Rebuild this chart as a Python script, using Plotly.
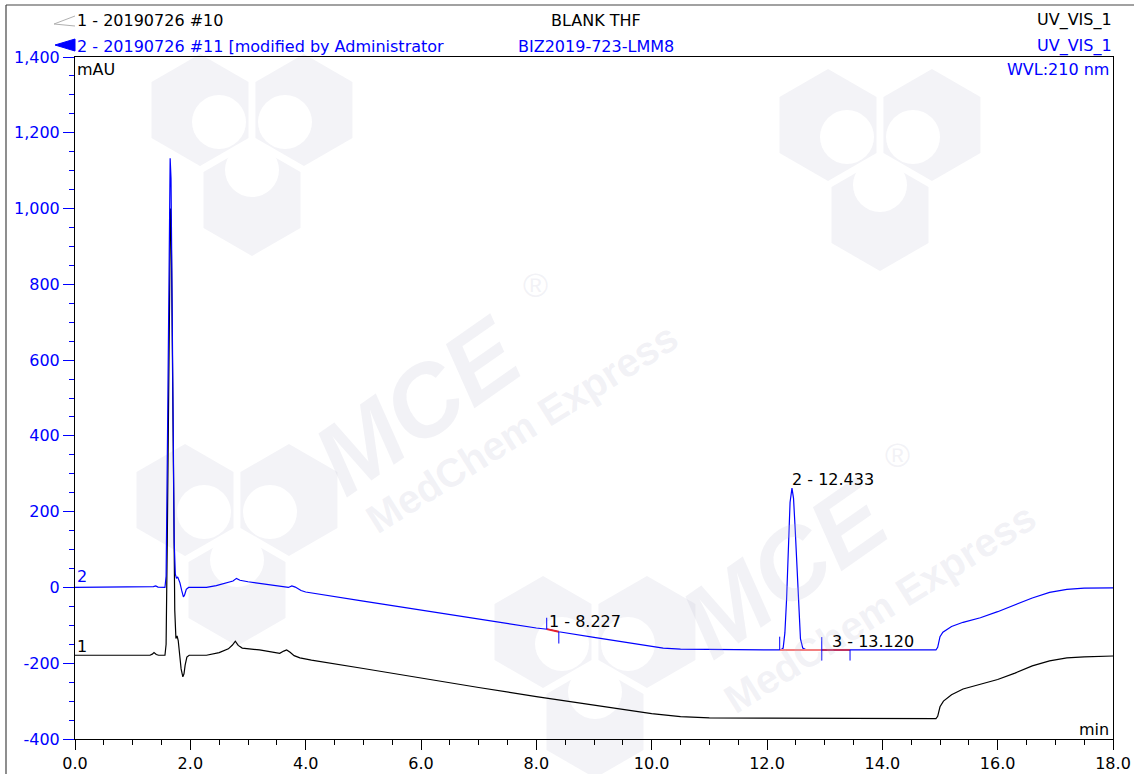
import math
import plotly.graph_objects as go

# ---------------- data ----------------
# Trace 1 (black): 20190726 #10  BLANK THF
time_1 = [0.00, 1.30, 1.34, 1.37, 1.41, 1.45, 1.56, 1.58, 1.60, 1.62, 1.64, 1.655, 1.67,
          1.69, 1.71, 1.73, 1.75, 1.77, 1.79, 1.81, 1.84, 1.87, 1.89, 1.91, 1.94, 1.98,
          2.28, 2.50, 2.66, 2.73, 2.78, 2.83, 2.90, 3.20, 3.55, 3.62, 3.67, 3.73, 3.80,
          3.90, 4.10, 5.00, 6.00, 7.00, 8.00, 9.00, 9.50, 10.00, 10.50, 11.00, 12.00,
          14.00, 14.93, 14.96, 15.00, 15.06, 15.20, 15.40, 15.70, 16.00, 16.30, 16.60,
          16.90, 17.20, 17.50, 18.00]
mau_1 = [-179, -179, -176, -172, -177, -179, -179, -150, 120, 520, 860, 1000, 930,
         620, 220, -60, -135, -128, -140, -175, -215, -236, -228, -205, -184, -179,
         -179, -172, -162, -152, -142, -153, -160, -165, -174, -168, -165, -171, -180,
         -186, -192, -214, -240, -264, -288, -310, -321, -333, -341, -344, -345,
         -346, -346, -340, -315, -300, -283, -268, -256, -243, -226, -207,
         -194, -186, -183, -181]

# Trace 2 (blue): 20190726 #11  BIZ2019-723-LMM8
time_2 = [0.00, 1.30, 1.36, 1.40, 1.44, 1.56, 1.58, 1.60, 1.62, 1.635, 1.65, 1.665, 1.68,
          1.70, 1.72, 1.74, 1.76, 1.78, 1.80, 1.82, 1.85, 1.88, 1.90, 1.93, 1.97,
          2.28, 2.45, 2.60, 2.74, 2.80, 2.86, 3.00, 3.30, 3.60, 3.70, 3.76, 3.82,
          3.92, 4.00, 5.00, 6.00, 7.00, 8.00, 8.227, 8.39, 9.00, 9.50, 9.90, 10.20,
          10.50, 11.00, 12.00, 12.24, 12.28, 12.31, 12.34, 12.37, 12.40, 12.433,
          12.46, 12.49, 12.52, 12.55, 12.58, 12.62, 12.67, 12.80, 14.00, 14.93,
          14.96, 15.00, 15.05, 15.20, 15.40, 15.70, 16.00, 16.30, 16.60, 16.90,
          17.20, 17.50, 18.00]
mau_2 = [0, 0, 2, 4, 1, 0, 30, 330, 720, 980, 1133, 1080, 820,
         420, 120, 35, 24, 28, 22, 12, -8, -25, -20, -5, 0,
         0, 5, 12, 17, 24, 19, 15, 9, 3, 0, 4, 1,
         -8, -12, -36, -60, -84, -107, -111, -117, -132, -144, -154, -160,
         -163, -164, -165, -165, -160, -120, -30, 110, 225, 262,
         235, 150, 40, -70, -135, -160, -164, -165, -165, -165,
         -158, -130, -118, -103, -92, -80, -64, -45, -28, -13,
         -5, -2, -1]

# integrated peaks (trace 2)
peak_labels = ["1 - 8.227", "2 - 12.433", "3 - 13.120"]
peak_rt = [8.227, 12.433, 13.120]
peak_label_mau = [-111, 262, -165]
peak_start = [8.18, 12.22, 12.95]
peak_end = [8.39, 12.95, 13.44]
peak_base_start = [-110, -165, -165]
peak_base_end = [-117, -165, -165]
peak_base_colors = ["#e8202a", "#f28080", "#c0305a"]

# peak delimiter marks (time, low mAU, high mAU)
delim_t = [8.18, 8.39, 12.22, 12.95, 13.44]
delim_lo = [-110, -148, -165, -193, -193]
delim_hi = [-80, -117, -130, -131, -165]

x_tick_vals = [0, 2, 4, 6, 8, 10, 12, 14, 16, 18]
x_tick_text = ["0.0", "2.0", "4.0", "6.0", "8.0", "10.0", "12.0", "14.0", "16.0", "18.0"]
y_tick_vals = [-400, -200, 0, 200, 400, 600, 800, 1000, 1200, 1400]
y_tick_text = ["-400", "-200", "0", "200", "400", "600", "800", "1,000", "1,200", "1,400"]

# ---------------- layout geometry ----------------
W, H = 1134, 774
ML, MR, MT, MB = 75, 21, 57, 35
PW, PH = W - ML - MR, H - MT - MB
FONT = "DejaVu Sans, Liberation Sans, Arial, sans-serif"
FS = 16
BLUE = "#0000ff"


def px(x):
    return (x - ML) / PW


def py(y):
    return (H - MB - y) / PH


fig = go.Figure()

fig.add_trace(go.Scatter(x=time_1, y=mau_1, mode="lines",
                         line=dict(color="#000000", width=1.2),
                         hoverinfo="skip", showlegend=False))
fig.add_trace(go.Scatter(x=time_2, y=mau_2, mode="lines",
                         line=dict(color=BLUE, width=1.2),
                         hoverinfo="skip", showlegend=False))

# integration baselines
for s, e, bs, be, c in zip(peak_start, peak_end, peak_base_start, peak_base_end, peak_base_colors):
    fig.add_trace(go.Scatter(x=[s, e], y=[bs, be], mode="lines",
                             line=dict(color=c, width=2),
                             hoverinfo="skip", showlegend=False))

# delimiter ticks
dx, dy = [], []
for t, lo, hi in zip(delim_t, delim_lo, delim_hi):
    dx += [t, t, None]
    dy += [lo, hi, None]
fig.add_trace(go.Scatter(x=dx, y=dy, mode="lines", line=dict(color=BLUE, width=1),
                         hoverinfo="skip", showlegend=False))

annotations = []
shapes = []

# ---------------- faint MCE watermark ----------------
WM_FILL = "rgb(243,243,247)"
WM_TXT = "rgba(190,190,210,0.20)"
WMF = "Liberation Sans, Arial, sans-serif"


def hexagon(cx, cy, r):
    pts = []
    for k in range(6):
        a = math.radians(90 + 60 * k)
        pts.append((cx + r * math.cos(a), cy + r * math.sin(a)))
    return "M " + " L ".join(f"{px(x)},{py(y)}" for x, y in pts) + " Z"


def logo(tx, ty, r=60):
    w = math.sqrt(3) * r
    for cx, cy in [(tx - w / 2, ty - r / 2), (tx + w / 2, ty - r / 2), (tx, ty + r)]:
        shapes.append(dict(type="path", xref="paper", yref="paper", layer="below",
                           path=hexagon(cx, cy, r - 4), fillcolor=WM_FILL,
                           line=dict(width=0)))
    cr = 0.45 * r
    for ax, ay in [(-0.55, -0.3), (0.55, -0.3), (0, 0.5)]:
        cx, cy = tx + ax * r, ty + ay * r
        shapes.append(dict(type="circle", xref="paper", yref="paper", layer="below",
                           x0=px(cx - cr), x1=px(cx + cr), y0=py(cy + cr), y1=py(cy - cr),
                           fillcolor="white", line=dict(width=0)))


for tx, ty in [(237, 530), (252, 140), (880, 155), (595, 662)]:
    logo(tx, ty)

for (x, y, txt, size, ang) in [
    (418, 405, "<b><i>MCE</i></b>", 100, -35),
    (522, 428, "<b>MedChem Express</b>", 40, -32),
    (535, 285, "®", 34, 0),
    (785, 568, "<b><i>MCE</i></b>", 100, -35),
    (880, 608, "<b>MedChem Express</b>", 40, -32),
    (897, 455, "®", 34, 0),
]:
    annotations.append(dict(x=px(x), y=py(y), xref="paper", yref="paper", text=txt,
                            showarrow=False, xanchor="center", yanchor="middle",
                            textangle=ang, font=dict(family=WMF, size=size, color=WM_TXT)))

# peak labels
for lab, rt, v in zip(peak_labels, peak_rt, peak_label_mau):
    annotations.append(dict(x=rt, y=v, xref="x", yref="y", text=lab, showarrow=False,
                            xanchor="left", yanchor="bottom", xshift=-2, yshift=-3,
                            font=dict(family=FONT, size=FS, color="#000000")))


def ptext(text, x, y, color="#000000", xanchor="left", size=FS):
    annotations.append(dict(x=px(x), y=py(y), xref="paper", yref="paper", text=text,
                            showarrow=False, xanchor=xanchor, yanchor="middle",
                            font=dict(family=FONT, size=size, color=color)))


# header texts
ptext("1 - 20190726 #10", 75, 20)
ptext("2 - 20190726 #11 [modified by Administrator", 75, 46, BLUE)
ptext("BLANK THF", 596, 20, xanchor="center")
ptext("BIZ2019-723-LMM8", 596, 46, BLUE, xanchor="center")
ptext("UV_VIS_1", 1114, 20, xanchor="right")
ptext("UV_VIS_1", 1114, 46, BLUE, xanchor="right")
ptext("WVL:210 nm", 1111, 70, BLUE, xanchor="right")
ptext("mAU", 75, 70)
ptext("min", 1111, 729, xanchor="right")
ptext("2", 75, 576, BLUE)
ptext("1", 75, 646)

shapes += [
    # outer frame (top and left edges visible)
    dict(type="line", xref="paper", yref="paper", x0=px(6), x1=px(W + 5), y0=py(5), y1=py(5),
         line=dict(color="#444444", width=1.2)),
    dict(type="line", xref="paper", yref="paper", x0=px(6), x1=px(6), y0=py(5), y1=py(H + 5),
         line=dict(color="#444444", width=1.2)),
    # trace icons in header
    dict(type="path", xref="paper", yref="paper",
         path=f"M {px(75)},{py(16)} L {px(54)},{py(24)} L {px(75)},{py(26)}",
         line=dict(color="#b0b0b0", width=1)),
    dict(type="path", xref="paper", yref="paper",
         path=f"M {px(55)},{py(45)} L {px(75)},{py(39)} L {px(75)},{py(51)} Z",
         line=dict(color=BLUE, width=1), fillcolor=BLUE),
]

fig.update_layout(
    width=W, height=H, autosize=False,
    margin=dict(l=ML, r=MR, t=MT, b=MB, pad=0),
    paper_bgcolor="white", plot_bgcolor="rgba(0,0,0,0)",
    showlegend=False,
    annotations=annotations, shapes=shapes,
    font=dict(family=FONT, size=FS, color="#000000"),
)
fig.update_xaxes(range=[0, 18], tickvals=x_tick_vals, ticktext=x_tick_text,
                 ticks="outside", ticklen=10, tickwidth=1, tickcolor="#000000",
                 minor=dict(dtick=0.5, tick0=0, ticks="outside", ticklen=5, tickcolor="#000000"),
                 showline=True, linecolor="#000000", linewidth=1, mirror=True,
                 showgrid=False, zeroline=False, automargin=False,
                 tickfont=dict(family=FONT, size=FS, color="#000000"))
fig.update_yaxes(range=[-400, 1400], tickvals=y_tick_vals, ticktext=y_tick_text,
                 ticks="outside", ticklen=11, tickwidth=1, tickcolor=BLUE,
                 minor=dict(dtick=50, tick0=0, ticks="outside", ticklen=5, tickcolor=BLUE),
                 showline=True, linecolor="#000000", linewidth=1, mirror=True,
                 showgrid=False, zeroline=False, automargin=False,
                 tickfont=dict(family=FONT, size=FS, color=BLUE))

fig.write_html("out.html", config={"displayModeBar": False},
               post_script="document.body.style.margin='0px';")
